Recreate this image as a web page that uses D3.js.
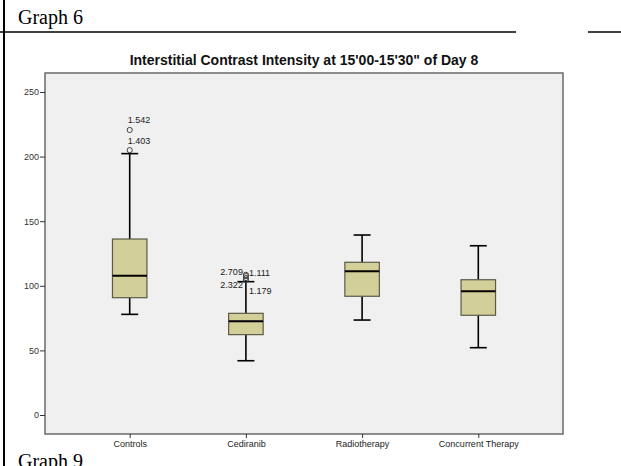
<!DOCTYPE html>
<html><head><meta charset="utf-8">
<script src="https://cdn.jsdelivr.net/npm/d3@7"></script>
<style>body{margin:0;background:#fff}svg{display:block}</style>
</head><body>
<script>
const categories = ["Controls","Cediranib","Radiotherapy","Concurrent Therapy"];
const lowerWhisker = [77.9, 42.0, 73.5, 52.1];
const q1 = [90.8, 62.2, 91.9, 77.2];
const median = [107.8, 72.5, 111.2, 95.7];
const q3 = [136.2, 78.7, 118.2, 104.7];
const upperWhisker = [202.3, 103.2, 139.3, 131.0];
const outlierCategory = ["Controls","Controls","Cediranib","Cediranib","Cediranib","Cediranib"];
const outlierValue = [220.6, 205.0, 108.5, 107.5, 106.0, 104.5];
const outlierLabel = ["1.542","1.403","2.709","1.111","2.322","1.179"];
const yTicks = [0,50,100,150,200,250];
const title = "Interstitial Contrast Intensity at 15'00-15'30\" of Day 8";

// label placement (layout only)
const labelPlace = [
  {a:"start",dx:-2,dy:-9},{a:"start",dx:-2,dy:-9},
  {a:"end",dx:-3,dy:-2},{a:"start",dx:3,dy:-2},
  {a:"end",dx:-3,dy:8},{a:"start",dx:3,dy:12}
];

const W=621,H=466;
const svg=d3.select("body").append("svg").attr("width",W).attr("height",H);

// document frame
svg.append("text").attr("x",18).attr("y",24).attr("font-family","Liberation Serif, Times New Roman, serif")
  .attr("font-size",20).attr("fill","#000").text("Graph 6");
svg.append("line").attr("x1",0).attr("x2",516).attr("y1",32).attr("y2",32).attr("stroke","#000").attr("stroke-width",1.5);
svg.append("line").attr("x1",588).attr("x2",621).attr("y1",32).attr("y2",32).attr("stroke","#000").attr("stroke-width",1.5);
svg.append("line").attr("x1",4).attr("x2",4).attr("y1",0).attr("y2",H).attr("stroke","#000").attr("stroke-width",2);
svg.append("text").attr("x",18).attr("y",468).attr("font-family","Liberation Serif, Times New Roman, serif")
  .attr("font-size",20).attr("fill","#000").text("Graph 9");

const L=45,R=563,T=73,B=434;
const y=d3.scaleLinear().domain([-14.7,264.7]).range([B,T]);
const x=d3.scalePoint().domain(categories).range([129.7,478.3]);

svg.append("text").attr("x",(L+R)/2).attr("y",65).attr("text-anchor","middle")
  .attr("font-family","Liberation Sans, Arial, sans-serif").attr("font-weight","bold").attr("font-size",14)
  .attr("fill","#111").text(title);

svg.append("rect").attr("x",L).attr("y",T).attr("width",R-L).attr("height",B-T)
  .attr("fill","#f0f0f0").attr("stroke","#6a6a6a").attr("stroke-width",1.5);

// y axis
const ya=svg.append("g").attr("transform",`translate(${L},0)`)
  .call(d3.axisLeft(y).tickValues(yTicks).tickSize(5).tickPadding(1).tickFormat(d3.format("d")));
ya.select(".domain").remove();
ya.selectAll("line").attr("stroke","#333");
ya.selectAll("text").attr("font-family","Liberation Sans, Arial, sans-serif").attr("font-size",9).attr("fill","#333");

// x axis
const xa=svg.append("g").attr("transform",`translate(0,${B})`)
  .call(d3.axisBottom(x).tickSize(4).tickPadding(3));
xa.select(".domain").remove();
xa.selectAll("line").attr("stroke","#333");
xa.selectAll("text").attr("font-family","Liberation Sans, Arial, sans-serif").attr("font-size",9).attr("fill","#222");

const bw=34.5, cap=17;
const g=svg.append("g");
categories.forEach((c,i)=>{
  const cx=x(c);
  g.append("line").attr("x1",cx).attr("x2",cx).attr("y1",y(upperWhisker[i])).attr("y2",y(q3[i])).attr("stroke","#000").attr("stroke-width",1.6);
  g.append("line").attr("x1",cx).attr("x2",cx).attr("y1",y(q1[i])).attr("y2",y(lowerWhisker[i])).attr("stroke","#000").attr("stroke-width",1.6);
  g.append("line").attr("x1",cx-cap/2).attr("x2",cx+cap/2).attr("y1",y(upperWhisker[i])).attr("y2",y(upperWhisker[i])).attr("stroke","#000").attr("stroke-width",1.6);
  g.append("line").attr("x1",cx-cap/2).attr("x2",cx+cap/2).attr("y1",y(lowerWhisker[i])).attr("y2",y(lowerWhisker[i])).attr("stroke","#000").attr("stroke-width",1.6);
  g.append("rect").attr("x",cx-bw/2).attr("y",y(q3[i])).attr("width",bw).attr("height",y(q1[i])-y(q3[i]))
    .attr("fill","#d3cf98").attr("stroke","#5a5a4a").attr("stroke-width",1.2);
  g.append("line").attr("x1",cx-bw/2).attr("x2",cx+bw/2).attr("y1",y(median[i])).attr("y2",y(median[i])).attr("stroke","#000").attr("stroke-width",2);
});

outlierValue.forEach((v,i)=>{
  const cx=x(outlierCategory[i]), cy=y(v);
  g.append("circle").attr("cx",cx).attr("cy",cy).attr("r",2.6).attr("fill","none").attr("stroke","#444").attr("stroke-width",1);
  const p=labelPlace[i];
  g.append("text").attr("x",cx+p.dx).attr("y",cy+p.dy).attr("text-anchor",p.a).attr("dominant-baseline","middle")
    .attr("font-family","Liberation Sans, Arial, sans-serif").attr("font-size",9).attr("fill","#222").text(outlierLabel[i]);
});
</script>
</body></html>
